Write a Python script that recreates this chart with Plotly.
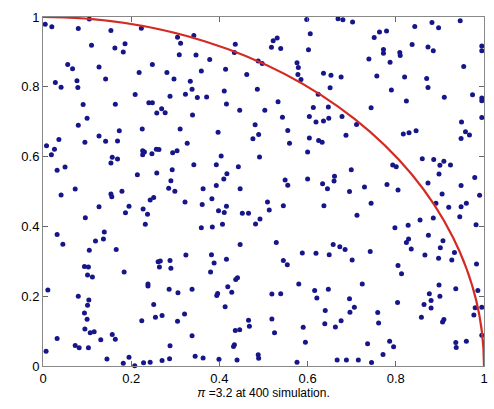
import plotly.graph_objects as go

# Simulated points (x, y in data units)
x_vals = [
    0.005, 0.020, 0.080, 0.105, 0.154, 0.110, 0.163, 0.186, 0.182, 0.223, 0.305, 0.312, 0.309, 0.056,
    0.067, 0.127, 0.248, 0.218, 0.281, 0.297, 0.142, 0.028, 0.041, 0.077, 0.079, 0.209, 0.288, 0.323,
    0.598, 0.606, 0.602, 0.342, 0.522, 0.531, 0.539, 0.518, 0.436, 0.434, 0.347, 0.378, 0.488, 0.497,
    0.576, 0.579, 0.578, 0.585, 0.636, 0.653, 0.414, 0.359, 0.462, 0.334, 0.338, 0.411, 0.486, 0.651,
    0.624, 0.350, 0.371, 0.533,
    0.669, 0.680, 0.702, 0.751, 0.763, 0.779, 0.843, 0.882, 0.897, 0.946, 0.837, 0.873, 0.885, 0.772,
    0.772, 0.809, 0.810, 0.787, 0.739, 0.995, 0.995, 0.954, 0.757, 0.676, 0.820, 0.870, 0.790, 0.873,
    0.824, 0.910, 0.974, 0.995, 0.995,
    0.091, 0.164, 0.240, 0.248, 0.269, 0.277, 0.258, 0.100, 0.080, 0.127, 0.173, 0.142, 0.169, 0.095,
    0.225, 0.311, 0.327, 0.036, 0.008, 0.026, 0.019, 0.226, 0.230, 0.226, 0.247, 0.257, 0.263, 0.294,
    0.304, 0.157, 0.169, 0.154, 0.032, 0.050, 0.214, 0.258, 0.293, 0.290, 0.073, 0.285, 0.299, 0.179,
    0.416, 0.446, 0.503, 0.339, 0.543, 0.613, 0.647, 0.604, 0.619, 0.636, 0.648, 0.481, 0.489, 0.476,
    0.397, 0.555, 0.559, 0.604, 0.625, 0.633, 0.600, 0.404, 0.491, 0.393, 0.443, 0.342, 0.417, 0.410,
    0.393, 0.363, 0.447, 0.549, 0.555, 0.600, 0.634, 0.645,
    0.744, 0.678, 0.711, 0.687, 0.817, 0.830, 0.846, 0.949, 0.958, 0.967, 0.948, 0.995, 0.860, 0.886,
    0.909, 0.900, 0.924, 0.898, 0.793, 0.801, 0.699, 0.661, 0.660, 0.873, 0.979, 0.948, 0.780, 0.729,
    0.695, 0.805,
    0.041, 0.154, 0.156, 0.127, 0.195, 0.187, 0.227, 0.237, 0.243, 0.251, 0.322, 0.096, 0.232, 0.032,
    0.045, 0.139, 0.137, 0.119, 0.105, 0.166, 0.324, 0.261, 0.266, 0.288, 0.264, 0.290, 0.094, 0.103,
    0.101, 0.112, 0.184,
    0.383, 0.361, 0.416, 0.398, 0.411, 0.452, 0.466, 0.509, 0.513, 0.545, 0.637, 0.492, 0.482, 0.407,
    0.384, 0.359, 0.447, 0.529, 0.382, 0.388, 0.416, 0.380, 0.441, 0.437, 0.545, 0.554, 0.588, 0.619,
    0.649, 0.658,
    0.905, 0.990, 0.744, 0.712, 0.891, 0.920, 0.948, 0.960, 0.945, 0.885, 0.855, 0.828, 0.798, 0.982,
    0.874, 0.829, 0.824, 0.907, 0.901, 0.835, 0.933, 0.866, 0.897, 0.927, 0.983, 0.673, 0.685, 0.742,
    0.701, 0.805, 0.813,
    0.011, 0.080, 0.104, 0.101, 0.094, 0.100, 0.238, 0.238, 0.286, 0.306, 0.251, 0.255, 0.270, 0.321,
    0.305, 0.224, 0.095, 0.107, 0.116, 0.032, 0.131, 0.157, 0.164, 0.007, 0.073, 0.082, 0.103, 0.288,
    0.145, 0.182, 0.195, 0.208, 0.228, 0.243, 0.270, 0.287,
    0.338, 0.419, 0.396, 0.394, 0.428, 0.413, 0.519, 0.539, 0.580, 0.616, 0.647, 0.621, 0.640, 0.639,
    0.519, 0.466, 0.468, 0.525, 0.436, 0.446, 0.590, 0.595, 0.338, 0.434, 0.432, 0.345, 0.363, 0.399,
    0.440, 0.488, 0.489, 0.576,
    0.724, 0.695, 0.706, 0.696, 0.676, 0.663, 0.759, 0.761, 0.804, 0.876, 0.880, 0.864, 0.880, 0.898,
    0.900, 0.858, 0.909, 0.906, 0.936, 0.986, 0.980, 0.995, 0.977, 0.995, 0.736, 0.786, 0.795, 0.771,
    0.667, 0.688, 0.715, 0.745, 0.936, 0.937, 0.960,
]
y_vals = [
    0.979, 0.972, 0.967, 0.994, 0.961, 0.919, 0.911, 0.923, 0.900, 0.968, 0.942, 0.925, 0.892, 0.864,
    0.852, 0.857, 0.864, 0.841, 0.841, 0.822, 0.822, 0.812, 0.799, 0.817, 0.798, 0.778, 0.773, 0.779,
    0.993, 0.952, 0.906, 0.947, 0.932, 0.940, 0.910, 0.913, 0.922, 0.898, 0.891, 0.878, 0.874, 0.867,
    0.869, 0.855, 0.835, 0.821, 0.839, 0.833, 0.850, 0.845, 0.835, 0.816, 0.793, 0.788, 0.793, 0.797,
    0.779, 0.769, 0.771, 0.757,
    0.995, 0.992, 0.986, 0.941, 0.957, 0.960, 0.973, 0.984, 0.969, 0.989, 0.921, 0.914, 0.903, 0.907,
    0.896, 0.898, 0.890, 0.870, 0.880, 0.917, 0.903, 0.858, 0.831, 0.828, 0.828, 0.824, 0.791, 0.798,
    0.759, 0.770, 0.777, 0.768, 0.760,
    0.749, 0.750, 0.754, 0.754, 0.737, 0.726, 0.725, 0.710, 0.690, 0.659, 0.674, 0.644, 0.645, 0.641,
    0.679, 0.679, 0.638, 0.649, 0.631, 0.621, 0.605, 0.617, 0.613, 0.605, 0.608, 0.621, 0.620, 0.611,
    0.617, 0.598, 0.593, 0.582, 0.561, 0.570, 0.548, 0.553, 0.562, 0.531, 0.507, 0.509, 0.501, 0.501,
    0.751, 0.733, 0.733, 0.719, 0.713, 0.741, 0.742, 0.715, 0.699, 0.702, 0.710, 0.691, 0.663, 0.651,
    0.670, 0.675, 0.638, 0.653, 0.646, 0.641, 0.613, 0.602, 0.599, 0.577, 0.571, 0.577, 0.551, 0.536,
    0.517, 0.508, 0.508, 0.533, 0.518, 0.536, 0.522, 0.508,
    0.740, 0.715, 0.692, 0.661, 0.665, 0.668, 0.674, 0.699, 0.671, 0.662, 0.652, 0.712, 0.594, 0.592,
    0.587, 0.575, 0.576, 0.550, 0.576, 0.571, 0.562, 0.544, 0.530, 0.524, 0.540, 0.517, 0.520, 0.513,
    0.500, 0.504,
    0.490, 0.493, 0.485, 0.456, 0.458, 0.439, 0.450, 0.435, 0.476, 0.483, 0.470, 0.425, 0.406, 0.377,
    0.349, 0.384, 0.364, 0.358, 0.332, 0.334, 0.318, 0.299, 0.301, 0.302, 0.284, 0.280, 0.285, 0.284,
    0.261, 0.255, 0.269,
    0.479, 0.463, 0.458, 0.445, 0.440, 0.438, 0.438, 0.470, 0.447, 0.459, 0.459, 0.421, 0.407, 0.406,
    0.398, 0.396, 0.348, 0.354, 0.319, 0.295, 0.306, 0.269, 0.253, 0.248, 0.302, 0.290, 0.324, 0.323,
    0.319, 0.348,
    0.493, 0.489, 0.466, 0.432, 0.466, 0.455, 0.456, 0.466, 0.428, 0.424, 0.418, 0.403, 0.396, 0.405,
    0.375, 0.364, 0.354, 0.359, 0.339, 0.335, 0.325, 0.318, 0.309, 0.304, 0.292, 0.342, 0.334, 0.328,
    0.304, 0.288, 0.264,
    0.218, 0.200, 0.189, 0.174, 0.152, 0.134, 0.235, 0.229, 0.220, 0.210, 0.176, 0.140, 0.145, 0.149,
    0.128, 0.130, 0.106, 0.095, 0.098, 0.079, 0.075, 0.090, 0.077, 0.042, 0.059, 0.052, 0.052, 0.058,
    0.020, 0.008, 0.025, 0.001, 0.009, 0.011, 0.016, 0.021,
    0.220, 0.227, 0.208, 0.202, 0.211, 0.170, 0.206, 0.207, 0.235, 0.216, 0.220, 0.195, 0.159, 0.121,
    0.135, 0.131, 0.114, 0.095, 0.102, 0.104, 0.111, 0.068, 0.087, 0.061, 0.056, 0.028, 0.023, 0.019,
    0.017, 0.032, 0.022, 0.011,
    0.235, 0.193, 0.168, 0.154, 0.130, 0.112, 0.153, 0.123, 0.182, 0.207, 0.188, 0.176, 0.166, 0.232,
    0.200, 0.140, 0.133, 0.126, 0.221, 0.216, 0.167, 0.168, 0.146, 0.088, 0.064, 0.071, 0.055, 0.033,
    0.017, 0.017, 0.017, 0.010, 0.067, 0.053, 0.071,
]

tick_vals = [0, 0.2, 0.4, 0.6, 0.8, 1]
tick_text = ["0", "0.2", "0.4", "0.6", "0.8", "1"]
caption = "<i>π</i> =3.2 at 400 simulation."

fig = go.Figure()
fig.add_trace(go.Scatter(
    x=x_vals, y=y_vals, mode="markers",
    marker=dict(size=5, color="#16168a"),
    cliponaxis=False, hoverinfo="skip", showlegend=False,
))

# quarter of the unit circle (clipped to the axes box)
fig.add_shape(type="circle", xref="x", yref="y", x0=-1, y0=-1, x1=1, y1=1,
              line=dict(color="#d42a24", width=2.2), layer="above")

axis_common = dict(
    range=[0, 1], tickvals=tick_vals, ticktext=tick_text,
    ticks="inside", ticklen=5, tickcolor="#666", tickwidth=1,
    showline=True, linecolor="#888", linewidth=1, mirror="ticks",
    showgrid=False, zeroline=False,
    tickfont=dict(family="Liberation Sans, Arial", size=13, color="black"),
)
fig.update_xaxes(**axis_common,
                 title=dict(text=caption, standoff=3,
                            font=dict(family="Liberation Sans, Arial", size=12, color="black")))
fig.update_yaxes(**axis_common)

fig.update_layout(
    width=494, height=409,
    margin=dict(l=43, r=6, t=17, b=43),
    paper_bgcolor="white", plot_bgcolor="white",
)
fig.write_html("out.html", config={"displayModeBar": False},
               post_script="document.body.style.margin='0';document.body.style.overflow='hidden';")
